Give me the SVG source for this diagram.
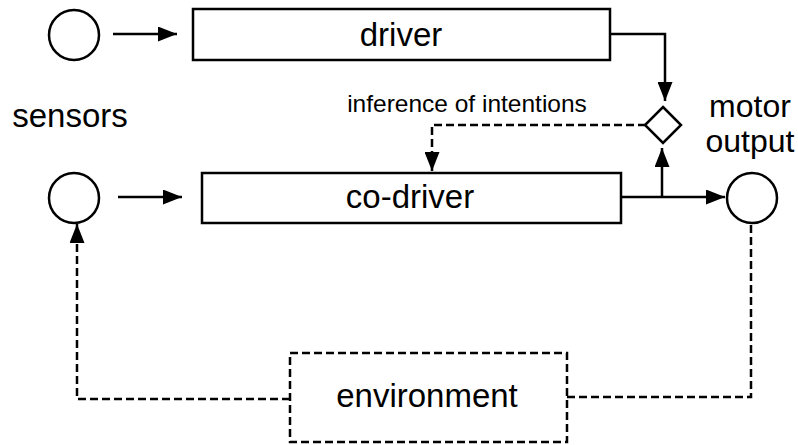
<svg xmlns="http://www.w3.org/2000/svg" width="798" height="445" viewBox="0 0 798 445">
<defs>
<marker id="ah" viewBox="0 0 19 15" refX="19" refY="7.5" markerWidth="19" markerHeight="15" markerUnits="userSpaceOnUse" orient="auto">
<path d="M0,0 L19,7.5 L0,15 Z" fill="#000"/>
</marker>
<style>
.n{fill:#fff;stroke:#000;stroke-width:2.5}
.d{stroke-dasharray:8,4}
.c{fill:none;stroke:#000;stroke-width:2.5}
.t{font-family:"Liberation Sans",Arial,sans-serif;fill:#000;text-anchor:middle}
</style>
</defs>
<rect width="798" height="445" fill="#fff"/>
<g id="connectors">
<path class="c" d="M113,34 H177" marker-end="url(#ah)"/>
<path class="c" d="M118,197 H182" marker-end="url(#ah)"/>
<path class="c" d="M610,34 H665 V101" marker-end="url(#ah)"/>
<path class="c" d="M621,197 H725" marker-end="url(#ah)"/>
<path class="c" d="M662,197 V148" marker-end="url(#ah)"/>
<path class="c d" d="M646,125 H432 V171" marker-end="url(#ah)"/>
<path class="c d" d="M290,399 H77 V224" marker-end="url(#ah)"/>
<path class="c d" d="M567,397 H751 V224"/>
</g>
<g id="sensor-top"><circle class="n" cx="74" cy="35" r="25"/></g>
<g id="sensor-bottom"><circle class="n" cx="74" cy="198" r="25"/></g>
<g id="sensors-label"><text class="t" x="70" y="127" font-size="33">sensors</text></g>
<g id="driver"><rect class="n" x="193" y="9" width="417" height="51"/><text class="t" x="401" y="46" font-size="33">driver</text></g>
<g id="co-driver"><rect class="n" x="202" y="173" width="419" height="50"/><text class="t" x="410" y="208" font-size="33">co-driver</text></g>
<g id="merge"><polygon class="n" points="663,107 681,125 663,143 645,125"/></g>
<g id="inference-label"><text class="t" x="467" y="112" font-size="24.5">inference of intentions</text></g>
<g id="motor-output"><circle class="n" cx="752" cy="198" r="25"/><text class="t" x="750" y="117" font-size="32">motor</text><text class="t" x="750" y="152" font-size="32">output</text></g>
<g id="environment"><rect class="n d" x="290" y="353" width="277" height="89"/><text class="t" x="427" y="407" font-size="33">environment</text></g>
</svg>
